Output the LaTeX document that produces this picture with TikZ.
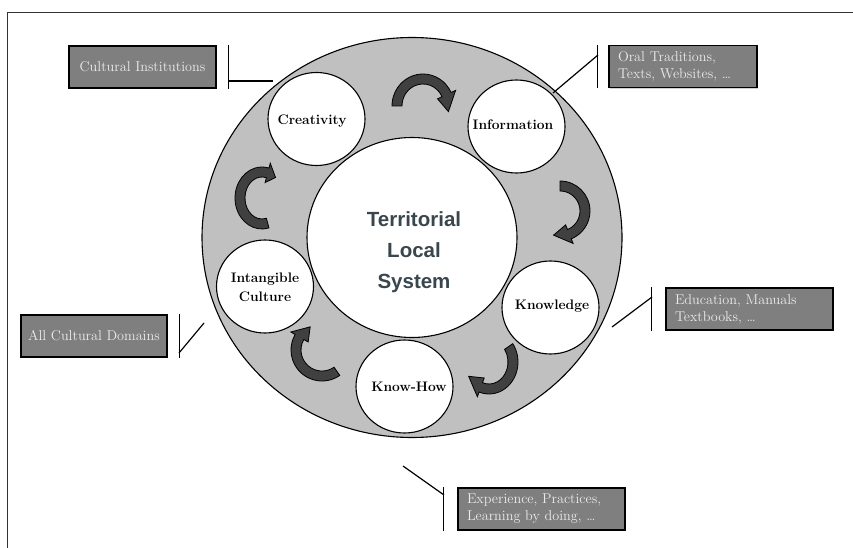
\documentclass[tikz,border=0pt]{standalone}
\usepackage{fontspec}
\newfontfamily\hubfont{Liberation Sans}
\usepackage{xcolor}
\usetikzlibrary{calc,shapes.geometric,shadows}

\definecolor{ringgray}{HTML}{C0C0C0}
\definecolor{boxgray}{HTML}{7F7F7F}
\definecolor{arrowgray}{HTML}{404040}
\definecolor{hubtext}{HTML}{3A464E}

% curved block arrow: centre, x radius, y radius, start, end of body, tip angle
\newcommand{\cyclearrow}[6]{%
    \filldraw[arrowbody]
        ($(#1)+(#4:{#2+5} and {#3+5})$)
        arc[start angle=#4,end angle=#5,x radius=#2+5,y radius=#3+5]
        -- ($(#1)+(#5:{#2+10} and {#3+10})$)
        -- ($(#1)+(#6:#2 and #3)$)
        -- ($(#1)+(#5:{#2-10} and {#3-10})$)
        -- ($(#1)+(#5:{#2-5} and {#3-5})$)
        arc[start angle=#5,end angle=#4,x radius=#2-5,y radius=#3-5]
        -- cycle;%
}

\begin{document}
\begin{tikzpicture}[
    x=1pt,
    y=-1pt,
    frameline/.style={line width=0.9pt,draw=black!80},
    stage/.style={
        ellipse,
        draw=black,
        line width=1.1pt,
        fill=white,
        minimum width=97pt,
        minimum height=93pt,
        inner sep=0pt
    },
    stagelabel/.style={
        align=center,
        inner sep=0pt,
        font=\bfseries\fontsize{13.8}{19}\selectfont
    },
    infobox/.style={
        draw=black,
        line width=1.4pt,
        fill=boxgray,
        text=white!92!black,
        minimum height=42pt,
        inner xsep=6pt,
        inner ysep=0pt,
        font=\fontsize{14.2}{17}\selectfont,
        drop shadow={shadow xshift=1.2pt,shadow yshift=-1.2pt,fill=black!35}
    },
    bracket/.style={line width=1.2pt,draw=black},
    arrowbody/.style={draw=black,line width=0.8pt,fill=arrowgray}
]

\useasboundingbox (0,0) rectangle (853,548);

% ---------------------------------------------------------
% Frame
% ---------------------------------------------------------

\draw[frameline] (7,548) -- (7,12) -- (853,12);

% ---------------------------------------------------------
% Ring and territorial system
% ---------------------------------------------------------

\node[
    ellipse,
    draw=black,
    line width=1.1pt,
    fill=ringgray,
    minimum width=420pt,
    minimum height=400pt
] (ring) at (412,237.5) {};

\node[
    ellipse,
    draw=black,
    line width=1.1pt,
    fill=white,
    minimum width=210pt,
    minimum height=200pt
] (hub) at (412,237.5) {};

\node[
    font=\hubfont\bfseries\fontsize{20.5}{31}\selectfont,
    text=hubtext,
    align=center
] (hublabel) at (414,252)
{Territorial\\Local\\System};

% ---------------------------------------------------------
% Stages of the cycle
% ---------------------------------------------------------

\node[stage] (creativity) at (316.5,119) {};
\node[stage] (information) at (516.5,126.5) {};
\node[stage] (knowledge) at (550.5,307.5) {};
\node[stage] (knowhow) at (404.5,386.5) {};
\node[stage] (intangible) at (265,286.5) {};

\node[stagelabel] (creativitytext) at (312,121) {Creativity};
\node[stagelabel] (informationtext) at (513,125) {Information};
\node[stagelabel] (knowledgetext) at (552,306) {Knowledge};
\node[stagelabel] (knowhowtext) at (409,387) {Know-How};
\node[stagelabel] (intangibletext) at (265,287) {Intangible\\Culture};

% arrows between the stages
\cyclearrow{423,106}{26}{27}{180}{335}{372}
\cyclearrow{560,211}{25}{25}{-90}{68}{105}
\cyclearrow{489,362}{24}{27}{-35}{110}{148}
\cyclearrow{322,350}{26}{26}{55}{210}{243}
\cyclearrow{262,198}{22}{26}{75}{285}{308}

% ---------------------------------------------------------
% Sources
% ---------------------------------------------------------

\node[infobox,minimum width=147pt] (institutions) at (142.5,67)
{Cultural Institutions};

\node[infobox,minimum width=148pt,text width=130pt,inner xsep=9pt,align=left]
    (oral) at (683,66.5)
{Oral Traditions,\\Texts, Websites, \dots};

\node[infobox,minimum width=146pt] (domains) at (94,336)
{All Cultural Domains};

\node[infobox,minimum width=167pt,text width=149pt,inner xsep=9pt,align=left]
    (education) at (749.5,309)
{Education, Manuals\\Textbooks, \dots};

\node[infobox,minimum width=167pt,text width=149pt,inner xsep=9pt,align=left]
    (experience) at (541.5,509)
{Experience, Practices,\\Learning by doing, \dots};

% ---------------------------------------------------------
% Brackets towards the ring
% ---------------------------------------------------------

\coordinate (institutionsjoin) at (228,81);
\coordinate (institutionsend) at (273,81);
\coordinate (oraljoin) at (598,55);
\coordinate (oralend) at (553,93);
\coordinate (domainsjoin) at (179,353);
\coordinate (domainsend) at (204,323);
\coordinate (educationjoin) at (652,297);
\coordinate (educationend) at (612,327);
\coordinate (experiencejoin) at (444,495);
\coordinate (experienceend) at (403,466);

\draw[bracket] ([xshift=12pt]institutions.north east)
    -- ([xshift=12pt]institutions.south east);
\draw[bracket] (institutionsjoin) -- (institutionsend);

\draw[bracket] ([xshift=-11pt]oral.north west)
    -- ([xshift=-11pt]oral.south west);
\draw[bracket] (oraljoin) -- (oralend);

\draw[bracket] ([xshift=12pt]domains.north east)
    -- ([xshift=12pt]domains.south east);
\draw[bracket] (domainsjoin) -- (domainsend);

\draw[bracket] ([xshift=-14pt]education.north west)
    -- ([xshift=-14pt]education.south west);
\draw[bracket] (educationjoin) -- (educationend);

\draw[bracket] ([xshift=-14pt]experience.north west)
    -- ([xshift=-14pt]experience.south west);
\draw[bracket] (experiencejoin) -- (experienceend);

\end{tikzpicture}
\end{document}
